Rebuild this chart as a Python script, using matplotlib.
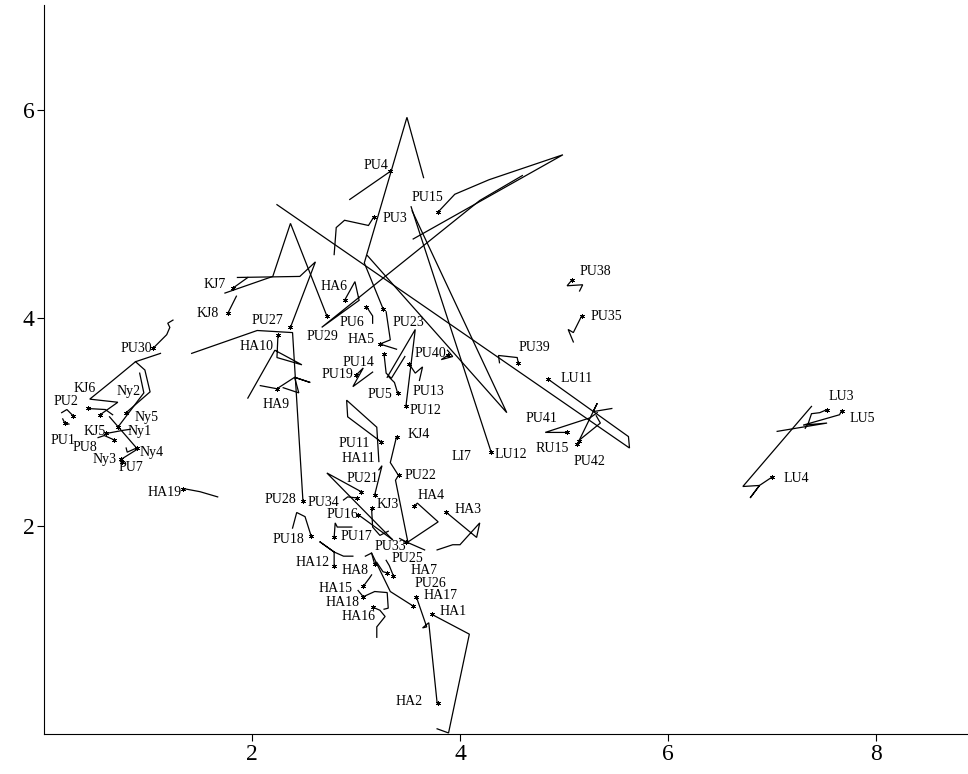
import matplotlib.pyplot as plt

plt.rcParams['font.family'] = ['Liberation Serif', 'DejaVu Serif']

# site names and where each one sits at the end of its track
sites = ["PU4", "PU3", "PU15", "HA6", "PU29", "LU11", "KJ7", "KJ8", "PU27", "HA10",
         "PU28", "HA9", "HA19", "PU30", "KJ6", "PU2", "PU1", "Ny2", "Ny5", "Ny1",
         "KJ5", "PU8", "Ny3", "Ny4", "PU7", "PU6", "PU23", "HA5", "PU14", "PU19",
         "PU5", "PU13", "PU12", "PU40", "LU12", "LI7", "PU39", "PU38", "PU35", "PU41",
         "RU15", "PU42", "LU3", "LU5", "LU4", "PU11", "KJ4", "HA11", "PU22", "PU21",
         "PU34", "KJ3", "PU16", "PU17", "PU18", "HA4", "HA3", "PU33", "HA12", "HA8",
         "PU25", "HA7", "PU26", "HA17", "HA1", "HA2", "HA15", "HA18", "HA16"]
mark_x = [3.33, 3.17, 3.79, 2.89, 2.72, 4.85, 1.82, 1.77, 2.37, 2.25,
          2.49, 2.24, 1.34, 1.05, 0.42, 0.28, 0.20, 0.54, 0.79, 0.71,
          0.60, 0.67, 0.74, 0.89, 0.75, 3.10, 3.26, 3.23, 3.27, 3.00,
          3.40, 3.51, 3.48, 3.88, 4.30, 4.45, 4.56, 5.08, 5.17, 5.03,
          5.13, 5.14, 7.53, 7.67, 7.00, 3.24, 3.39, 3.18, 3.41, 3.05,
          3.01, 3.15, 3.02, 2.79, 2.57, 3.56, 3.87, 3.48, 2.79, 3.18,
          3.30, 3.36, 3.55, 3.58, 3.73, 3.79, 3.07, 3.07, 3.16]
mark_y = [5.41, 4.97, 5.02, 4.17, 4.02, 3.41, 4.29, 4.05, 3.91, 3.84,
          2.24, 3.32, 2.36, 3.71, 3.13, 3.06, 2.99, 3.07, 3.09, 2.95,
          2.89, 2.83, 2.64, 2.75, 2.62, 4.11, 4.09, 3.75, 3.65, 3.45,
          3.28, 3.56, 3.15, 3.64, 2.71, 3.09, 3.57, 4.37, 4.02, 2.90,
          2.79, 2.82, 3.12, 3.11, 2.47, 2.81, 2.86, 2.30, 2.49, 2.33,
          2.27, 2.17, 2.11, 1.89, 1.90, 2.19, 2.13, 1.85, 1.62, 1.63,
          1.55, 1.52, 1.23, 1.32, 1.15, 0.30, 1.42, 1.32, 1.22]
no_marker = ["LI7"]

# movement tracks (x, y) for each site
tracks = {
    "PU4": [(3.33, 5.41), (2.94, 5.14)],
    "PU3": [(3.17, 4.97), (3.12, 4.89), (2.89, 4.94), (2.81, 4.87), (2.79, 4.61)],
    "PU15": [(3.79, 5.02), (3.95, 5.19), (4.28, 5.33), (4.99, 5.57), (3.55, 4.76)],
    "HA6": [(2.89, 4.17), (2.99, 4.35), (3.03, 4.17), (2.67, 3.91), (4.19, 5.13), (4.60, 5.37)],
    "PU29": [(2.72, 4.02), (2.37, 4.91), (2.20, 4.40), (1.74, 4.24)],
    "LU11": [(4.85, 3.41), (5.62, 2.86), (5.63, 2.75), (2.24, 5.09)],
    "KJ7": [(1.82, 4.29), (1.96, 4.39)],
    "KJ8": [(1.77, 4.05), (1.85, 4.21)],
    "PU27": [(2.37, 3.91), (2.61, 4.54), (2.46, 4.40), (1.86, 4.39)],
    "HA10": [(2.25, 3.84), (2.24, 3.62), (2.48, 3.55), (2.22, 3.69), (1.96, 3.23)],
    "PU28": [(2.49, 2.24), (2.39, 3.86), (2.05, 3.88), (1.42, 3.66)],
    "HA9": [(2.08, 3.35), (2.24, 3.32), (2.41, 3.43), (2.56, 3.38), (2.41, 3.43),
            (2.45, 3.28), (2.30, 3.33)],
    "HA19": [(1.34, 2.36), (1.50, 2.33), (1.67, 2.28)],
    "PU30": [(1.05, 3.71), (1.18, 3.84), (1.21, 3.91), (1.19, 3.95), (1.24, 3.98)],
    "KJ6": [(0.42, 3.13), (0.59, 3.12), (0.66, 3.07)],
    "PU2": [(0.28, 3.06), (0.22, 3.12), (0.17, 3.09)],
    "PU1": [(0.18, 3.03), (0.20, 2.99), (0.24, 2.98)],
    "Ny2": [(0.54, 3.07), (0.71, 3.19), (0.44, 3.22), (0.65, 3.39), (0.88, 3.58), (1.12, 3.66)],
    "Ny5": [(0.79, 3.09), (1.02, 3.29), (0.97, 3.50), (0.88, 3.58)],
    "Ny1": [(0.71, 2.95), (0.96, 3.28), (0.92, 3.47)],
    "KJ5": [(0.60, 2.89), (0.76, 2.92), (0.83, 2.93)],
    "PU8": [(0.67, 2.83), (0.58, 2.87), (0.52, 2.85)],
    "Ny3": [(0.74, 2.64), (0.90, 2.74)],
    "Ny4": [(0.79, 2.75), (0.80, 2.71), (0.89, 2.75), (0.63, 3.05)],
    "PU6": [(3.10, 4.11), (3.16, 4.02), (3.16, 3.95)],
    "PU23": [(3.26, 4.09), (3.08, 4.53), (3.49, 5.93), (3.65, 5.35)],
    "HA5": [(3.39, 3.70), (3.23, 3.75), (3.33, 3.79), (3.29, 4.06)],
    "PU14": [(3.27, 3.65), (3.29, 3.47), (3.34, 3.42), (3.47, 3.63)],
    "PU19": [(3.00, 3.45), (3.07, 3.52), (2.97, 3.34), (3.16, 3.48)],
    "PU5": [(3.40, 3.28), (3.37, 3.38), (3.31, 3.44)],
    "PU13": [(3.51, 3.56), (3.57, 3.47), (3.64, 3.53), (3.61, 3.40)],
    "PU12": [(3.48, 3.15), (3.57, 3.89), (3.30, 3.43)],
    "PU40": [(3.88, 3.64), (3.82, 3.60), (3.93, 3.63), (3.88, 3.69)],
    "LU12": [(4.30, 2.71), (3.53, 5.07)],
    "LI7": [(3.54, 5.03), (4.45, 3.09), (3.11, 4.60)],
    "PU39": [(4.56, 3.57), (4.55, 3.62), (4.37, 3.64), (4.38, 3.57)],
    "PU38": [(5.08, 4.37), (5.03, 4.31), (5.18, 4.32), (5.15, 4.26)],
    "PU35": [(5.17, 4.02), (5.09, 3.86), (5.04, 3.89), (5.09, 3.77)],
    "PU41": [(5.03, 2.90), (4.82, 2.90), (5.25, 3.04), (5.32, 3.09)],
    "RU15": [(5.13, 2.79), (5.32, 3.18), (5.28, 3.10), (5.46, 3.13)],
    "PU42": [(5.14, 2.82), (5.35, 2.99), (5.31, 3.06)],
    "LU3": [(7.53, 3.12), (7.46, 3.09), (7.38, 3.08), (7.35, 2.99), (7.32, 2.94)],
    "LU5": [(7.67, 3.11), (7.65, 3.07), (7.30, 2.97), (7.53, 2.99), (7.05, 2.91)],
    "LU4": [(7.00, 2.47), (6.88, 2.39), (6.79, 2.27), (6.88, 2.39), (6.72, 2.38), (7.38, 3.15)],
    "PU11": [(3.24, 2.81), (2.92, 3.05), (2.91, 3.21), (3.20, 2.95), (3.22, 2.62)],
    "KJ4": [(3.39, 2.86), (3.33, 2.61), (3.40, 2.50)],
    "HA11": [(3.18, 2.30), (3.25, 2.58), (3.22, 2.54)],
    "PU22": [(3.41, 2.49), (3.38, 2.44), (3.50, 1.84), (3.66, 1.77)],
    "PU21": [(3.05, 2.33), (2.72, 2.51), (3.35, 1.87)],
    "PU34": [(3.01, 2.27), (2.92, 2.28), (2.88, 2.25)],
    "KJ3": [(3.15, 2.17), (3.16, 1.99), (3.23, 1.91), (3.31, 1.95)],
    "PU16": [(3.02, 2.11), (3.13, 2.03), (3.35, 1.87)],
    "PU17": [(2.79, 1.89), (2.80, 2.03), (2.82, 1.99), (2.96, 1.99)],
    "PU18": [(2.57, 1.90), (2.51, 2.09), (2.43, 2.13), (2.39, 1.98)],
    "HA4": [(3.56, 2.19), (3.59, 2.22), (3.79, 2.04), (3.49, 1.84)],
    "HA3": [(3.87, 2.13), (4.16, 1.89), (4.19, 2.03), (4.00, 1.82), (3.93, 1.82), (3.78, 1.77)],
    "PU33": [(3.48, 1.85), (3.42, 1.88)],
    "HA12": [(2.79, 1.62), (2.79, 1.75), (2.65, 1.85), (2.79, 1.75), (2.88, 1.71), (2.97, 1.71)],
    "HA8": [(3.18, 1.63), (3.15, 1.74), (3.09, 1.71)],
    "PU25": [(3.30, 1.55), (3.26, 1.56), (3.20, 1.65)],
    "HA7": [(3.36, 1.52), (3.32, 1.62), (3.29, 1.67)],
    "PU26": [(3.55, 1.23), (3.33, 1.37), (3.15, 1.74)],
    "HA17": [(3.58, 1.32), (3.68, 1.03), (3.64, 1.02), (3.70, 1.07), (3.78, 0.30)],
    "HA1": [(3.73, 1.15), (4.09, 0.96), (3.89, 0.01), (3.78, 0.05)],
    "HA15": [(3.07, 1.42), (3.13, 1.50), (3.15, 1.53)],
    "HA18": [(3.02, 1.38), (3.07, 1.32), (3.18, 1.37), (3.30, 1.36), (3.31, 1.21), (3.27, 1.20)],
    "HA16": [(3.16, 1.22), (3.23, 1.19), (3.28, 1.13), (3.20, 1.03), (3.20, 0.93)],
}

# where each name is written, relative to its point (pixels, up is positive)
label_shift = {
    "PU4": (-14, 6), "PU3": (21, -1), "PU15": (-11, 14), "HA6": (-11, 14),
    "PU29": (-4, -21), "LU11": (28, 1), "KJ7": (-19, 3), "KJ8": (-20, -1),
    "PU27": (-23, 7), "HA10": (-21, -12), "PU28": (-23, 2), "HA9": (-1, -16),
    "HA19": (-19, -4), "PU30": (-17, 0), "KJ6": (-3, 20), "PU2": (-7, 14),
    "PU1": (-2, -17), "Ny2": (28, 23), "Ny5": (20, -5), "Ny1": (22, -4),
    "KJ5": (-12, 2), "PU8": (-29, -8), "Ny3": (-16, 0), "Ny4": (15, -4),
    "PU7": (9, -6), "PU6": (-14, -16), "PU23": (25, -14), "HA5": (-19, 5),
    "PU14": (-26, -8), "PU19": (-19, 1), "PU5": (-18, -2), "PU13": (19, -28),
    "PU12": (20, -4), "PU40": (-17, 2), "LU12": (20, -2), "LI7": (-45, -44),
    "PU39": (16, 15), "PU38": (23, 8), "PU35": (25, -1), "PU41": (-26, 14),
    "RU15": (-25, -5), "PU42": (11, -21), "LU3": (14, 13), "LU5": (21, -8),
    "LU4": (24, -1), "PU11": (-27, -2), "KJ4": (22, 2), "HA11": (-16, 36),
    "PU22": (22, 0), "PU21": (1, 13), "PU34": (-34, -5), "KJ3": (16, 4),
    "PU16": (-16, 0), "PU17": (22, 1), "PU18": (-23, -3), "HA4": (17, 11),
    "HA3": (22, 3), "PU33": (-16, -5), "HA12": (-22, 3), "HA8": (-20, -6),
    "PU25": (20, 14), "HA7": (31, 5), "PU26": (17, 23), "HA17": (24, 1),
    "HA1": (21, 3), "HA2": (-29, 1), "HA15": (-28, -2), "HA18": (-21, -6),
    "HA16": (-14, -9),
}

fig = plt.figure(figsize=(9.68, 7.74), dpi=100)
ax = fig.add_axes([44 / 968, 40 / 774, 924 / 968, 729 / 774])

for name, pts in tracks.items():
    xs = [p[0] for p in pts]
    ys = [p[1] for p in pts]
    ax.plot(xs, ys, color='black', lw=0.9, solid_joinstyle='miter')

for name, x, y in zip(sites, mark_x, mark_y):
    if name not in no_marker:
        ax.plot(x, y, ls='none', marker=(6, 2, 0), ms=3.5, mew=0.6, color='black')
    ax.annotate(name, (x, y), xytext=label_shift[name], textcoords='offset pixels',
                ha='center', va='center', fontsize=10)

ax.set_xlim(0, 8.885)
ax.set_ylim(0, 7.01)
ax.set_xticks([2, 4, 6, 8])
ax.set_yticks([2, 4, 6])
ax.tick_params(direction='out', length=5, width=0.8, labelsize=17, pad=2)
for side in ['top', 'right']:
    ax.spines[side].set_visible(False)
for side in ['left', 'bottom']:
    ax.spines[side].set_linewidth(0.8)

fig.savefig('out.png', dpi=100)
